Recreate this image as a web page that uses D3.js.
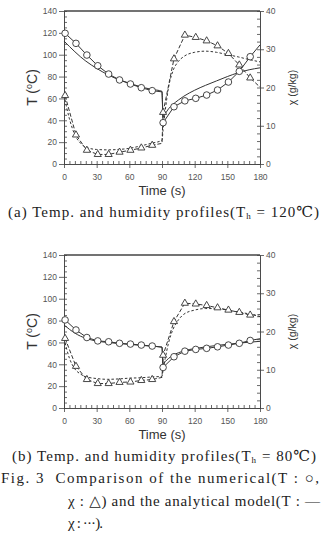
<!DOCTYPE html>
<html>
<head>
<meta charset="utf-8">
<style>
  body { margin: 0; background: #fff; }
  svg { display: block; }
  .tick text { font-family: "Liberation Sans", Arial, sans-serif; font-size: 8.5px; fill: #555; }
  .tick line, .domain { stroke: #444; stroke-width: 0.8; }
  .cap { font-family: "Liberation Serif", "DejaVu Serif", serif; font-size: 15px; fill: #222; white-space: pre; }
  .lab { font-family: "Liberation Sans", Arial, sans-serif; fill: #333; }
</style>
</head>
<body>
<svg id="chart" width="321" height="543"></svg>
<script src="https://cdn.jsdelivr.net/npm/d3@7/dist/d3.min.js"></script>
<script>
// numerical model: markers every 10 s, plus unmarked points at end of each stage
const numTime   = [1, 11, 21, 31, 41, 51, 61, 71, 81, 90, 91, 101, 111, 121, 131, 141, 151, 161, 171, 180]
const numMarked = [1, 1, 1, 1, 1, 1, 1, 1, 1, 0, 1, 1, 1, 1, 1, 1, 1, 1, 1, 0]

// analytical model time grid
const anaTime = [0, 5, 10, 15, 20, 30, 40, 50, 60, 70, 80, 90, 91, 93, 96, 100, 105, 110, 120, 130, 140, 150, 160, 170, 180]

// (a) Th = 120
const numT_a = [119.6, 110.4, 99.7, 89.9, 82.3, 76.9, 73.2, 69.8, 67.1, 66.0, 37.8, 52.4, 57.8, 60.1, 63.1, 67.7, 75.0, 84.8, 98.2, 109.0]
const numX_a = [17.9, 7.6, 3.6, 2.5, 2.5, 3.1, 3.6, 4.2, 4.9, 5.4, 13.5, 27.5, 33.7, 33.1, 32.2, 30.9, 28.9, 25.9, 22.5, 20.1]
const anaT_a = [112.5, 107.5, 102.7, 98.2, 94.2, 87.5, 81.8, 77.3, 74, 70.8, 68.4, 66.5, 43, 46, 50.5, 54.5, 58.5, 62, 67.5, 72, 76, 80, 83.5, 86.2, 88]
const anaX_a = [18, 11.8, 7.6, 5.5, 4.4, 3.8, 3.7, 3.8, 4.1, 4.7, 5.4, 6.2, 9, 14, 20, 24.3, 26.8, 28.1, 29.2, 29.5, 29.2, 28.6, 28, 27.3, 26.7]

// (b) Th = 80
const numT_b = [80.6, 71.4, 64.5, 61.4, 60.6, 59.2, 58.5, 57.6, 56.7, 55.8, 37.1, 46.9, 52.0, 53.6, 54.6, 56.0, 57.6, 59.2, 61.8, 63.4]
const numX_b = [18.2, 10.9, 7.45, 6.4, 6.4, 6.7, 6.8, 7.2, 7.45, 8.0, 13.8, 22.6, 27.4, 27.2, 26.8, 26.2, 25.6, 25.0, 24.3, 24.4]
const anaT_b = [76, 72, 68.5, 65.8, 63.8, 61.2, 60, 59, 58.2, 57.4, 56.6, 55.6, 40, 42.5, 45.3, 48.3, 50.5, 52.3, 54.4, 55.9, 57.2, 58.3, 59.3, 60.2, 61]
const anaX_b = [18.2, 13, 10.2, 8.9, 8.2, 7.7, 7.5, 7.6, 7.8, 7.9, 8.1, 8.3, 10, 13, 17, 20.5, 23, 24.5, 25.6, 26, 26, 25.6, 25.1, 24.6, 23.9]

const xTicks = [0, 30, 60, 90, 120, 150, 180]
const tTicks = [0, 20, 40, 60, 80, 100, 120, 140]
const chiTicks = [0, 10, 20, 30, 40]

let svg = d3.select("#chart")
let ink = "#333"

function panel(top, bottom, numT, numX, anaT, anaX) {
    let x = d3.scaleLinear().domain([0, 180]).range([64, 260])
    let yT = d3.scaleLinear().domain([0, 140]).range([bottom, top])
    let yX = d3.scaleLinear().domain([0, 40]).range([bottom, top])
    let g = svg.append("g")

    // axes: major ticks outward, minor ticks inward
    g.append("g").attr("transform", `translate(0,${bottom})`)
        .call(d3.axisBottom(x).tickValues(d3.range(0, 181, 5)).tickSize(-3).tickSizeOuter(0).tickFormat(""))
    g.append("g").attr("transform", `translate(0,${bottom})`)
        .call(d3.axisBottom(x).tickValues(xTicks).tickSize(4).tickSizeOuter(0).tickPadding(6))
    g.append("g").attr("transform", "translate(64,0)")
        .call(d3.axisLeft(yT).tickValues(d3.range(0, 141, 5)).tickSize(-3).tickSizeOuter(0).tickFormat(""))
    g.append("g").attr("transform", "translate(64,0)")
        .call(d3.axisLeft(yT).tickValues(tTicks).tickSize(5).tickSizeOuter(0).tickPadding(2))
    g.append("g").attr("transform", "translate(260,0)")
        .call(d3.axisRight(yX).tickValues(d3.range(0, 41, 2)).tickSize(-3).tickSizeOuter(0).tickFormat(""))
    g.append("g").attr("transform", "translate(260,0)")
        .call(d3.axisRight(yX).tickValues(chiTicks).tickSize(4).tickSizeOuter(0).tickPadding(2))
    g.append("line").attr("x1", 64).attr("x2", 260).attr("y1", top).attr("y2", top)
        .attr("stroke", "#444").attr("stroke-width", 1.3)

    // axis titles
    g.append("text").attr("class", "lab").attr("x", 162).attr("y", bottom + 31)
        .attr("text-anchor", "middle").attr("font-size", 13).text("Time (s)")
    let tl = g.append("text").attr("class", "lab").attr("font-size", 14)
        .attr("transform", `translate(37,${(top + bottom) / 2}) rotate(-90)`).attr("text-anchor", "middle")
    tl.append("tspan").text("T (")
    tl.append("tspan").attr("font-size", 9).attr("dy", -5).text("o")
    tl.append("tspan").attr("dy", 5).text("C)")
    g.append("text").attr("class", "lab").attr("font-size", 10.5)
        .attr("transform", `translate(296,${(top + bottom) / 2}) rotate(-90)`).attr("text-anchor", "middle")
        .text("χ (g/kg)")

    let numLineT = d3.line().x((d, i) => x(numTime[i])).y(d => yT(d))
    let numLineX = d3.line().x((d, i) => x(numTime[i])).y(d => yX(d))
    let anaLineT = d3.line().curve(d3.curveMonotoneX).x((d, i) => x(anaTime[i])).y(d => yT(d))
    let anaLineX = d3.line().curve(d3.curveMonotoneX).x((d, i) => x(anaTime[i])).y(d => yX(d))

    g.append("path").attr("d", anaLineT(anaT)).attr("fill", "none").attr("stroke", ink).attr("stroke-width", 1)
    g.append("path").attr("d", anaLineX(anaX)).attr("fill", "none").attr("stroke", ink).attr("stroke-width", 1)
        .attr("stroke-dasharray", "2.5,2")
    g.append("path").attr("d", numLineT(numT)).attr("fill", "none").attr("stroke", ink).attr("stroke-width", 1)
    g.append("path").attr("d", numLineX(numX)).attr("fill", "none").attr("stroke", ink).attr("stroke-width", 1)
        .attr("stroke-dasharray", "4,2")

    // markers
    let idx = numTime.map((t, i) => i).filter(i => numMarked[i])
    g.selectAll(".circ").data(idx).enter().append("circle")
        .attr("cx", i => x(numTime[i])).attr("cy", i => yT(numT[i])).attr("r", 3.3)
        .attr("fill", "#fff").attr("stroke", ink).attr("stroke-width", 0.9)
    g.selectAll(".tri").data(idx).enter().append("path")
        .attr("d", d3.symbol(d3.symbolTriangle, 22))
        .attr("transform", i => `translate(${x(numTime[i])},${yX(numX[i])})`)
        .attr("fill", "#fff").attr("stroke", ink).attr("stroke-width", 0.9)
}

panel(11, 164, numT_a, numX_a, anaT_a, anaX_a)
panel(255, 408, numT_b, numX_b, anaT_b, anaX_b)

// captions
function caption(x0, y0, len, parts) {
    let t = svg.append("text").attr("class", "cap").attr("x", x0).attr("y", y0)
        .attr("textLength", len).attr("lengthAdjust", "spacing")
    parts.forEach(p => {
        let s = t.append("tspan").text(p.s)
        if (p.sub) s.attr("font-size", 9).attr("dy", 1.5)
        if (p.after) s.attr("dy", -1.5)
    })
}
caption(8, 217, 311, [{ s: "(a) Temp. and humidity profiles(T" }, { s: "h", sub: 1 }, { s: " = 120℃)", after: 1 }])
caption(12, 461, 304, [{ s: "(b) Temp. and humidity profiles(T" }, { s: "h", sub: 1 }, { s: " = 80℃)", after: 1 }])
caption(1, 483, 318, [{ s: "Fig. 3  Comparison of the numerical(T : ○," }])
caption(68, 506, 252, [{ s: "χ : △) and the analytical model(T : —" }])
caption(68, 528, 35, [{ s: "χ : ···)." }])
</script>
</body>
</html>
